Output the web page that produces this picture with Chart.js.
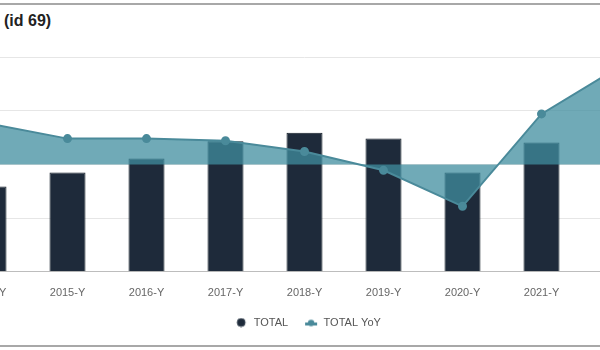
<!DOCTYPE html>
<html>
<head>
<meta charset="utf-8">
<script src="https://cdn.jsdelivr.net/npm/chart.js@4"></script>
<style>
  html, body { margin: 0; padding: 0; background: #fff; overflow: hidden; }
  body { width: 600px; height: 350px; position: relative; font-family: "Liberation Sans", Arial, sans-serif; }
  .line-top { position: absolute; left: 0; right: 0; top: 3px; height: 0; border-top: 2px solid #a8a8a8; }
  .line-bottom { position: absolute; left: 0; right: 0; top: 345px; height: 0; border-top: 2px solid #a8a8a8; }
  .title { position: absolute; left: 4px; top: 12px; font-size: 16px; font-weight: bold; color: #222; }
  .chart-box { position: absolute; left: -109px; top: 40px; width: 800px; height: 298px; }
</style>
</head>
<body>
<div class="line-top"></div>
<div class="title">(id 69)</div>
<div class="chart-box"><canvas id="yoyChart"></canvas></div>
<div class="line-bottom"></div>
<script>
const categorias = ['2014-Y', '2015-Y', '2016-Y', '2017-Y', '2018-Y', '2019-Y', '2020-Y', '2021-Y', '2022-Y'];
const total = [159, 185, 211, 243, 259, 248, 185, 241, 262];
const totalYoY = [7.6, 4.8, 4.8, 4.4, 2.4, -1.1, -7.8, 9.4, 18.3];

const COLOR_BAR = '#1e2a3a';
const COLOR_LINE = '#4a8a9a';

// iconos de la leyenda (20px de ancho, el icono va a la derecha)
function iconoCirculo() {
  const c = document.createElement('canvas');
  c.width = 20; c.height = 10;
  const g = c.getContext('2d');
  g.beginPath();
  g.arc(13, 5, 4, 0, Math.PI * 2);
  g.fillStyle = COLOR_BAR;
  g.fill();
  g.strokeStyle = '#3a4654';
  g.lineWidth = 1;
  g.stroke();
  return c;
}

function iconoLinea() {
  const c = document.createElement('canvas');
  c.width = 20; c.height = 10;
  const g = c.getContext('2d');
  g.fillStyle = COLOR_LINE;
  g.fillRect(7, 5, 12, 3);
  g.beginPath();
  g.arc(13, 5.5, 3.2, 0, Math.PI * 2);
  g.fill();
  return c;
}

const iconos = [iconoCirculo(), iconoLinea()];

const ctx = document.getElementById('yoyChart');
new Chart(ctx, {
  type: 'bar',
  data: {
    labels: categorias,
    datasets: [
      {
        label: 'TOTAL',
        data: total,
        backgroundColor: COLOR_BAR,
        borderColor: '#121b26',
        borderWidth: 1,
        barPercentage: 0.57,
        categoryPercentage: 0.8,
        yAxisID: 'y',
        order: 1
      },
      {
        type: 'line',
        label: 'TOTAL YoY',
        data: totalYoY,
        borderColor: COLOR_LINE,
        backgroundColor: 'rgba(64, 141, 159, 0.75)',
        pointBackgroundColor: COLOR_LINE,
        pointBorderColor: COLOR_LINE,
        pointRadius: 3.5,
        borderWidth: 2,
        tension: 0,
        fill: 'origin',
        yAxisID: 'y1',
        order: 0
      }
    ]
  },
  options: {
    responsive: true,
    maintainAspectRatio: false,
    animation: false,
    layout: { padding: { top: 17, left: 58, right: 31, bottom: 0 } },
    plugins: {
      legend: {
        position: 'bottom',
        labels: {
          usePointStyle: true,
          pointStyleWidth: 20,
          boxHeight: 7,
          padding: 10,
          color: '#555',
          font: { size: 11, family: '"Liberation Sans", Arial, sans-serif' },
          generateLabels: (chart) => {
            const items = Chart.defaults.plugins.legend.labels.generateLabels(chart);
            items.forEach(it => { it.pointStyle = iconos[it.datasetIndex]; });
            return items;
          },
          sort: (a, b) => a.datasetIndex - b.datasetIndex
        }
      },
      tooltip: { enabled: false }
    },
    scales: {
      x: {
        grid: { display: false },
        border: { display: true, color: '#bdbdbd' },
        ticks: {
          color: '#666',
          padding: 7,
          font: { size: 11, family: '"Liberation Sans", Arial, sans-serif' }
        }
      },
      y: {
        min: 0,
        max: 400,
        ticks: { stepSize: 100, display: false },
        grid: { color: '#e6e6e6', drawTicks: false },
        border: { display: false }
      },
      y1: {
        min: -20,
        max: 20,
        display: false
      }
    }
  }
});
</script>
</body>
</html>
